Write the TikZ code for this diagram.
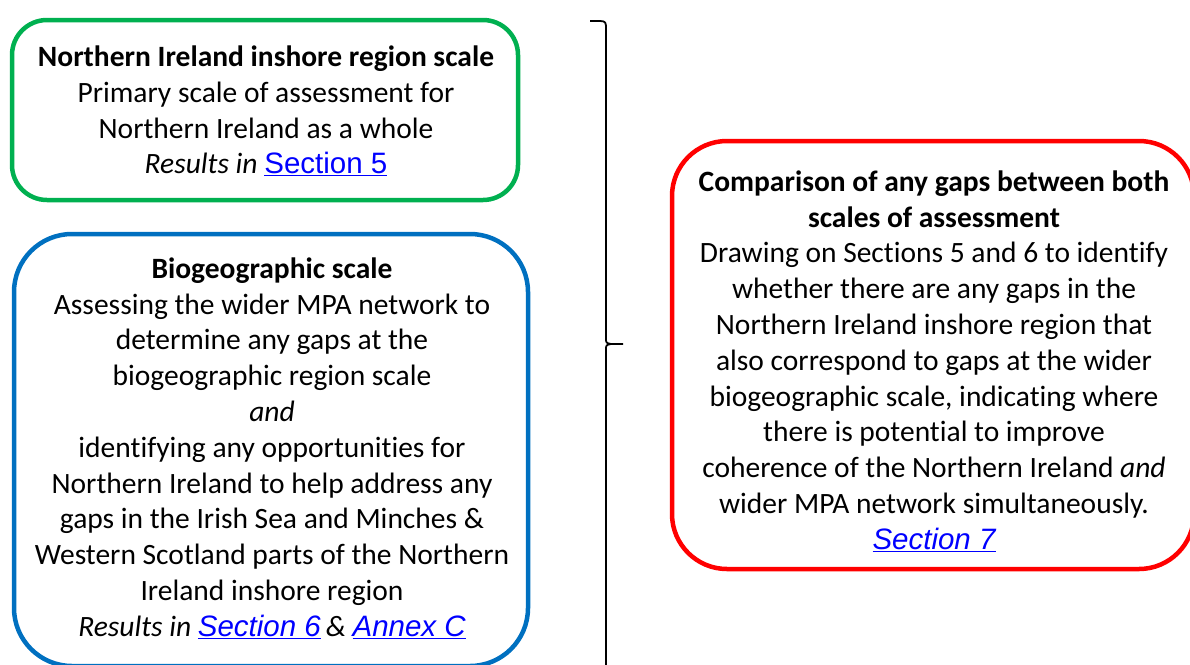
\documentclass[tikz,border=0pt]{standalone}
\usepackage{fontspec}
\setmainfont{Carlito}[Ligatures={NoCommon}]
\newfontfamily\linkfont{Liberation Sans}
\usetikzlibrary{calc}
\usetikzlibrary{positioning}
\definecolor{wordgreen}{RGB}{0, 176, 80}
\definecolor{wordblue}{RGB}{0, 112, 192}
\definecolor{wordred}{RGB}{255, 0, 0}
\definecolor{linkblue}{RGB}{0, 0, 255}
\newcommand{\reflink}[1]{\textcolor{linkblue}{\linkfont\underline{#1}}}
\tikzset{
  frame/.style={line width=4.5pt},
  boxtext/.style={align=center, inner sep=0pt, font=\fontsize{29.5}{35.8}\selectfont},
  braceline/.style={line width=1.8pt, line join=round},
}

\begin{document}
\begin{tikzpicture}[x=1pt,y=-1pt]
            \clip (0,0) rectangle (1190,664);
            \draw[frame, wordgreen, rounded corners=35pt] (12,20)  rectangle (518,200);
            \draw[frame, wordblue,  rounded corners=58pt] (14,234) rectangle (528,666);
            \draw[frame, wordred,   rounded corners=55pt] (672,141) rectangle (1194,569);
            \node[boxtext] (inshore) at (266,111)
                 {\textbf{Northern Ireland inshore region scale}\\
                  Primary scale of assessment for\\
                  Northern Ireland as a whole\\
                  \textit{Results in} \reflink{Section 5}};
            \node[boxtext] (biogeo) at (272,448)
                 {\textbf{Biogeographic scale}\\
                  Assessing the wider MPA network to\\
                  determine any gaps at the\\
                  biogeographic region scale\\
                  \textit{and}\\
                  identifying any opportunities for\\
                  Northern Ireland to help address any\\
                  gaps in the Irish Sea and Minches \&\\
                  Western Scotland parts of the Northern\\
                  Ireland inshore region\\
                  \textit{Results in} \reflink{\itshape Section 6}\,\textit{\&} \reflink{\itshape Annex C}};
            \node[boxtext] (gaps) at (934,361)
                 {\textbf{Comparison of any gaps between both}\\
                  \textbf{scales of assessment}\\
                  Drawing on Sections 5 and 6 to identify\\
                  whether there are any gaps in the\\
                  Northern Ireland inshore region that\\
                  also correspond to gaps at the wider\\
                  biogeographic scale, indicating where\\
                  there is potential to improve\\
                  coherence of the Northern Ireland \textit{and}\\
                  wider MPA network simultaneously.\\
                  \reflink{\itshape Section 7}};
            % brace joining both scales to the comparison
            \coordinate (bracetop) at (590,21);
            \coordinate (bracetip) at (623,344);
            \coordinate (bracebot) at (606,667);
            \draw[braceline] (bracetop) -- (600,21) .. controls (606,21) and (606,23) .. (606,29)
                 -- (606,338) .. controls (606,343) .. (611,344) -- (bracetip);
            \draw[braceline] (611,344) .. controls (606,345) .. (606,350) -- (bracebot);
\end{tikzpicture}
\end{document}
